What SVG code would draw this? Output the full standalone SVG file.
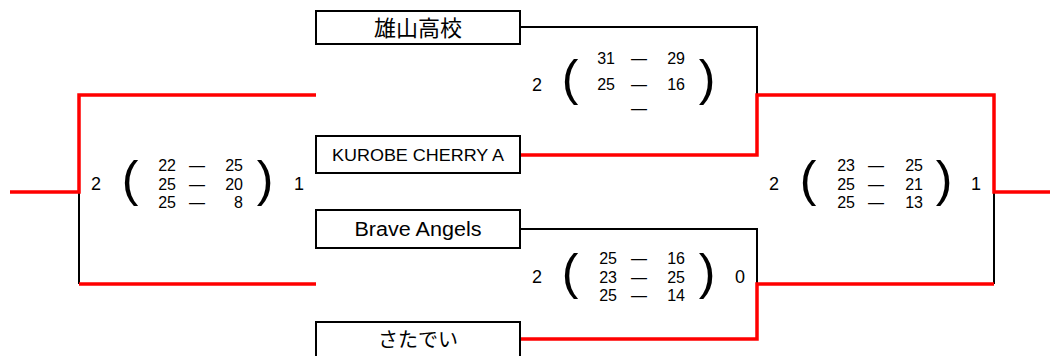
<svg xmlns="http://www.w3.org/2000/svg" width="1050" height="356" viewBox="0 0 1050 356">
<style>
.box{fill:#fff;stroke:#000;stroke-width:2}
.name{font-family:"Liberation Sans","Noto Sans CJK JP",sans-serif;fill:#000;text-anchor:middle;dominant-baseline:central}
.blk{fill:none;stroke:#000;stroke-width:2}
.red{fill:none;stroke:#f00;stroke-width:3.5}
.sc{font-family:"Liberation Sans",sans-serif;font-size:16px;fill:#000}
.big{font-family:"Liberation Sans",sans-serif;font-size:18px;fill:#000;text-anchor:middle}
.par{font-family:"Liberation Sans",sans-serif;font-size:50px;fill:#000;text-anchor:middle}
.e{text-anchor:end}.m{text-anchor:middle}
</style>
<rect width="1050" height="356" fill="#fff"/>
<g id="connectors">
<path class="blk" d="M79,192 V284"/>
<path class="red" d="M10,192 H79 V95 H316 M79,284 H316"/>
<path class="blk" d="M520,27 H757 V95"/>
<path class="blk" d="M520,229 H757 V284"/>
<path class="blk" d="M994,192 V284"/>
<path class="red" d="M520,155 H757 V95 H994 V192 H1050"/>
<path class="red" d="M520,339 H757 V284 H994"/>
</g>
<g id="team-oyama"><rect class="box" x="316" y="11" width="204" height="33"/><text class="name" x="418" y="28" font-size="22">雄山高校</text></g>
<g id="team-kurobe"><rect class="box" x="316" y="136" width="204" height="37"/><text class="name" x="418" y="155" font-size="17" textLength="172" lengthAdjust="spacingAndGlyphs">KUROBE CHERRY A</text></g>
<g id="team-brave"><rect class="box" x="316" y="210" width="204" height="38"/><text class="name" x="418" y="229" font-size="20" textLength="127" lengthAdjust="spacingAndGlyphs">Brave Angels</text></g>
<g id="team-satadei"><rect class="box" x="316" y="322" width="204" height="40"/><text class="name" x="418" y="340" font-size="20">さたでい</text></g>
<g id="score-m1">
<text class="big" x="537" y="91">2</text>
<text class="par" x="570" y="95">(</text><text class="par" x="707" y="95">)</text>
<text class="sc e" x="615" y="64">31</text><text class="sc m" x="639" y="64">—</text><text class="sc e" x="685" y="64">29</text>
<text class="sc e" x="615" y="90">25</text><text class="sc m" x="639" y="90">—</text><text class="sc e" x="685" y="90">16</text>
<text class="sc m" x="639" y="114">—</text>
</g>
<g id="score-m2">
<text class="big" x="537" y="283">2</text>
<text class="par" x="570" y="289">(</text><text class="par" x="707" y="289">)</text>
<text class="big" x="740" y="283">0</text>
<text class="sc e" x="617" y="264">25</text><text class="sc m" x="639" y="264">—</text><text class="sc e" x="685" y="264">16</text>
<text class="sc e" x="617" y="283">23</text><text class="sc m" x="639" y="283">—</text><text class="sc e" x="685" y="283">25</text>
<text class="sc e" x="617" y="301">25</text><text class="sc m" x="639" y="301">—</text><text class="sc e" x="685" y="301">14</text>
</g>
<g id="score-semi-left">
<text class="big" x="96" y="190">2</text>
<text class="par" x="130" y="196">(</text><text class="par" x="265" y="196">)</text>
<text class="big" x="299" y="190">1</text>
<text class="sc e" x="176" y="171">22</text><text class="sc m" x="197" y="171">—</text><text class="sc e" x="243" y="171">25</text>
<text class="sc e" x="176" y="190">25</text><text class="sc m" x="197" y="190">—</text><text class="sc e" x="243" y="190">20</text>
<text class="sc e" x="176" y="208">25</text><text class="sc m" x="197" y="208">—</text><text class="sc e" x="243" y="208">8</text>
</g>
<g id="score-semi-right">
<text class="big" x="774" y="190">2</text>
<text class="par" x="808" y="196">(</text><text class="par" x="944" y="196">)</text>
<text class="big" x="976" y="190">1</text>
<text class="sc e" x="855" y="171">23</text><text class="sc m" x="876" y="171">—</text><text class="sc e" x="923" y="171">25</text>
<text class="sc e" x="855" y="190">25</text><text class="sc m" x="876" y="190">—</text><text class="sc e" x="923" y="190">21</text>
<text class="sc e" x="855" y="208">25</text><text class="sc m" x="876" y="208">—</text><text class="sc e" x="923" y="208">13</text>
</g>
</svg>
